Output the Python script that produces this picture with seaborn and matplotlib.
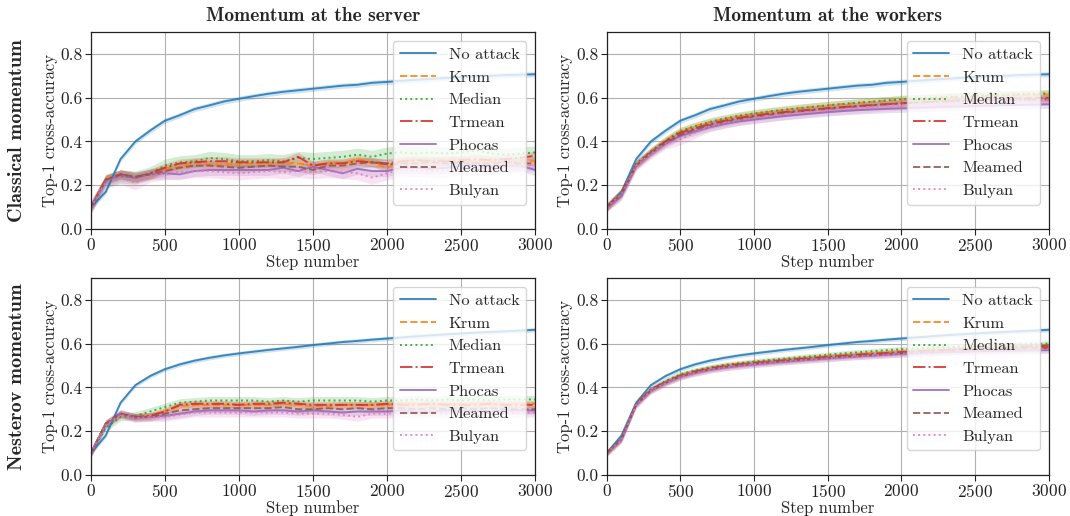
import numpy as np
import pandas as pd
import matplotlib
matplotlib.use("Agg")
import matplotlib.pyplot as plt
import seaborn as sns

steps = list(range(0, 3001, 100))
methods = ["No attack", "Krum", "Median", "Trmean", "Phocas", "Meamed", "Bulyan"]
linestyles = ["-", "--", ":", "-.", "-", "--", ":"]
row_labels = ["Classical momentum", "Nesterov momentum"]
col_titles = ["Momentum at the server", "Momentum at the workers"]

# ---- No attack baselines (shared per row) ----
na_classical = [0.10, 0.17, 0.32, 0.40, 0.45, 0.495, 0.52, 0.548, 0.565, 0.583, 0.595, 0.607, 0.618, 0.627, 0.634, 0.641,
                0.648, 0.655, 0.659, 0.668, 0.672, 0.677, 0.682, 0.686, 0.690, 0.694, 0.697, 0.700, 0.703, 0.705, 0.707]
na_nesterov = [0.10, 0.18, 0.33, 0.41, 0.452, 0.483, 0.505, 0.522, 0.535, 0.546, 0.555, 0.563, 0.571, 0.578, 0.585, 0.593,
               0.600, 0.607, 0.612, 0.618, 0.623, 0.628, 0.633, 0.638, 0.642, 0.646, 0.650, 0.653, 0.656, 0.659, 0.663]

# ---- Classical momentum, at the server ----
cs_krum = [0.10, 0.23, 0.25, 0.235, 0.25, 0.275, 0.285, 0.305, 0.295, 0.295, 0.30, 0.30, 0.30, 0.305, 0.30, 0.29,
           0.30, 0.30, 0.32, 0.305, 0.28, 0.31, 0.31, 0.31, 0.315, 0.31, 0.31, 0.31, 0.305, 0.31, 0.31]
cs_median = [0.10, 0.22, 0.24, 0.235, 0.255, 0.29, 0.305, 0.31, 0.325, 0.32, 0.31, 0.31, 0.315, 0.31, 0.325, 0.32,
             0.325, 0.33, 0.34, 0.33, 0.345, 0.35, 0.345, 0.35, 0.345, 0.35, 0.36, 0.345, 0.34, 0.345, 0.35]
cs_trmean = [0.10, 0.225, 0.25, 0.235, 0.255, 0.28, 0.30, 0.305, 0.31, 0.31, 0.305, 0.305, 0.305, 0.305, 0.33, 0.29,
             0.30, 0.30, 0.31, 0.305, 0.30, 0.31, 0.315, 0.31, 0.31, 0.315, 0.32, 0.315, 0.32, 0.325, 0.335]
cs_phocas = [0.10, 0.22, 0.245, 0.235, 0.25, 0.255, 0.25, 0.265, 0.27, 0.27, 0.27, 0.27, 0.27, 0.28, 0.265, 0.285,
             0.27, 0.255, 0.275, 0.265, 0.265, 0.28, 0.28, 0.275, 0.28, 0.29, 0.295, 0.285, 0.29, 0.29, 0.27]
cs_meamed = [0.10, 0.225, 0.25, 0.24, 0.25, 0.265, 0.28, 0.29, 0.29, 0.285, 0.28, 0.285, 0.29, 0.285, 0.285, 0.27,
             0.29, 0.29, 0.30, 0.305, 0.295, 0.30, 0.30, 0.305, 0.30, 0.305, 0.30, 0.30, 0.305, 0.30, 0.30]
cs_bulyan = [0.10, 0.215, 0.235, 0.21, 0.245, 0.255, 0.26, 0.265, 0.265, 0.26, 0.255, 0.26, 0.265, 0.26, 0.265, 0.26,
             0.265, 0.26, 0.255, 0.235, 0.255, 0.27, 0.27, 0.265, 0.27, 0.28, 0.275, 0.28, 0.285, 0.29, 0.295]

# ---- Classical momentum, at the workers ----
cw_krum = [0.10, 0.165, 0.295, 0.355, 0.405, 0.447, 0.47, 0.488, 0.502, 0.515, 0.525, 0.535, 0.543, 0.551, 0.558, 0.565,
           0.571, 0.576, 0.581, 0.586, 0.591, 0.595, 0.598, 0.601, 0.604, 0.606, 0.608, 0.610, 0.612, 0.614, 0.615]
cw_median = [0.10, 0.17, 0.30, 0.355, 0.405, 0.447, 0.47, 0.49, 0.505, 0.518, 0.528, 0.537, 0.545, 0.552, 0.559, 0.565,
             0.571, 0.577, 0.582, 0.588, 0.593, 0.597, 0.600, 0.603, 0.606, 0.609, 0.612, 0.614, 0.616, 0.618, 0.62]
cw_trmean = [0.10, 0.165, 0.295, 0.35, 0.40, 0.44, 0.46, 0.48, 0.495, 0.508, 0.518, 0.527, 0.534, 0.540, 0.546, 0.552,
             0.557, 0.562, 0.566, 0.570, 0.574, 0.577, 0.580, 0.582, 0.584, 0.586, 0.588, 0.589, 0.590, 0.591, 0.592]
cw_phocas = [0.10, 0.15, 0.29, 0.345, 0.39, 0.425, 0.445, 0.465, 0.48, 0.492, 0.50, 0.508, 0.516, 0.522, 0.528, 0.534,
             0.539, 0.543, 0.546, 0.549, 0.551, 0.554, 0.556, 0.558, 0.560, 0.562, 0.564, 0.566, 0.567, 0.569, 0.570]
cw_meamed = [0.10, 0.16, 0.29, 0.35, 0.395, 0.43, 0.455, 0.475, 0.49, 0.503, 0.513, 0.522, 0.530, 0.537, 0.543, 0.549,
             0.555, 0.560, 0.565, 0.570, 0.574, 0.578, 0.581, 0.584, 0.587, 0.590, 0.593, 0.595, 0.597, 0.599, 0.60]
cw_bulyan = [0.10, 0.16, 0.29, 0.345, 0.39, 0.41, 0.44, 0.47, 0.485, 0.498, 0.508, 0.517, 0.525, 0.532, 0.538, 0.544,
             0.549, 0.554, 0.559, 0.564, 0.568, 0.572, 0.575, 0.578, 0.580, 0.582, 0.584, 0.586, 0.588, 0.589, 0.59]

# ---- Nesterov momentum, at the server ----
ns_krum = [0.10, 0.235, 0.275, 0.265, 0.27, 0.29, 0.315, 0.32, 0.32, 0.32, 0.32, 0.32, 0.32, 0.325, 0.32, 0.315,
           0.315, 0.32, 0.32, 0.32, 0.32, 0.325, 0.325, 0.32, 0.325, 0.32, 0.325, 0.325, 0.32, 0.325, 0.325]
ns_median = [0.10, 0.215, 0.265, 0.27, 0.29, 0.31, 0.33, 0.335, 0.34, 0.34, 0.34, 0.34, 0.335, 0.34, 0.335, 0.34,
             0.34, 0.34, 0.34, 0.335, 0.34, 0.34, 0.345, 0.34, 0.345, 0.34, 0.345, 0.34, 0.345, 0.345, 0.345]
ns_trmean = [0.10, 0.235, 0.28, 0.265, 0.27, 0.29, 0.32, 0.325, 0.325, 0.325, 0.32, 0.325, 0.325, 0.33, 0.325, 0.32,
             0.32, 0.32, 0.32, 0.32, 0.325, 0.32, 0.32, 0.325, 0.32, 0.32, 0.32, 0.325, 0.32, 0.32, 0.32]
ns_phocas = [0.10, 0.23, 0.28, 0.26, 0.265, 0.27, 0.28, 0.29, 0.295, 0.295, 0.295, 0.29, 0.295, 0.295, 0.29, 0.295,
             0.29, 0.285, 0.29, 0.29, 0.29, 0.295, 0.29, 0.29, 0.295, 0.29, 0.295, 0.29, 0.295, 0.295, 0.295]
ns_meamed = [0.10, 0.235, 0.28, 0.265, 0.265, 0.28, 0.295, 0.30, 0.305, 0.305, 0.305, 0.305, 0.305, 0.31, 0.30, 0.30,
             0.305, 0.30, 0.305, 0.30, 0.305, 0.305, 0.30, 0.305, 0.30, 0.305, 0.30, 0.305, 0.30, 0.30, 0.30]
ns_bulyan = [0.10, 0.23, 0.275, 0.26, 0.265, 0.265, 0.275, 0.285, 0.285, 0.285, 0.285, 0.285, 0.285, 0.285, 0.28, 0.28,
             0.28, 0.275, 0.265, 0.28, 0.28, 0.285, 0.28, 0.285, 0.28, 0.285, 0.28, 0.285, 0.28, 0.285, 0.285]

# ---- Nesterov momentum, at the workers ----
nw_krum = [0.10, 0.165, 0.325, 0.39, 0.425, 0.455, 0.474, 0.488, 0.499, 0.507, 0.514, 0.520, 0.526, 0.532, 0.537, 0.542,
           0.547, 0.552, 0.556, 0.560, 0.564, 0.567, 0.570, 0.572, 0.575, 0.577, 0.579, 0.581, 0.582, 0.584, 0.585]
nw_median = [0.10, 0.165, 0.325, 0.39, 0.43, 0.46, 0.478, 0.492, 0.503, 0.511, 0.518, 0.525, 0.531, 0.537, 0.543, 0.549,
             0.555, 0.560, 0.565, 0.570, 0.574, 0.578, 0.581, 0.584, 0.587, 0.589, 0.592, 0.594, 0.596, 0.598, 0.600]
nw_trmean = [0.10, 0.165, 0.325, 0.39, 0.425, 0.453, 0.472, 0.486, 0.497, 0.505, 0.511, 0.517, 0.523, 0.529, 0.534, 0.539,
             0.544, 0.549, 0.553, 0.557, 0.561, 0.565, 0.568, 0.571, 0.574, 0.577, 0.580, 0.583, 0.585, 0.588, 0.590]
nw_phocas = [0.10, 0.16, 0.32, 0.385, 0.42, 0.448, 0.466, 0.48, 0.49, 0.498, 0.505, 0.511, 0.517, 0.522, 0.527, 0.532,
             0.537, 0.541, 0.545, 0.549, 0.553, 0.556, 0.559, 0.561, 0.563, 0.565, 0.566, 0.567, 0.568, 0.569, 0.570]
nw_meamed = [0.10, 0.165, 0.322, 0.387, 0.422, 0.45, 0.469, 0.483, 0.494, 0.502, 0.509, 0.515, 0.521, 0.526, 0.531, 0.536,
             0.541, 0.545, 0.549, 0.553, 0.557, 0.561, 0.564, 0.567, 0.570, 0.572, 0.574, 0.576, 0.578, 0.579, 0.580]
nw_bulyan = [0.10, 0.16, 0.32, 0.385, 0.42, 0.448, 0.466, 0.48, 0.491, 0.499, 0.506, 0.512, 0.518, 0.523, 0.528, 0.533,
             0.538, 0.542, 0.546, 0.550, 0.554, 0.558, 0.561, 0.564, 0.566, 0.568, 0.570, 0.572, 0.573, 0.574, 0.575]

# std (band half-width) per series, per panel: order follows `methods`
std_cs = [0.012, 0.02, 0.03, 0.02, 0.025, 0.022, 0.03]
std_cw = [0.012, 0.018, 0.018, 0.016, 0.018, 0.018, 0.025]
std_ns = [0.010, 0.015, 0.018, 0.015, 0.018, 0.018, 0.02]
std_nw = [0.010, 0.012, 0.012, 0.012, 0.015, 0.012, 0.015]

panels = {
    (0, 0): ([na_classical, cs_krum, cs_median, cs_trmean, cs_phocas, cs_meamed, cs_bulyan], std_cs),
    (0, 1): ([na_classical, cw_krum, cw_median, cw_trmean, cw_phocas, cw_meamed, cw_bulyan], std_cw),
    (1, 0): ([na_nesterov, ns_krum, ns_median, ns_trmean, ns_phocas, ns_meamed, ns_bulyan], std_ns),
    (1, 1): ([na_nesterov, nw_krum, nw_median, nw_trmean, nw_phocas, nw_meamed, nw_bulyan], std_nw),
}

sns.set_style("ticks", {"axes.grid": True, "grid.color": "#b0b0b0", "axes.edgecolor": "#222222",
                        "xtick.color": "#222222", "ytick.color": "#222222"})
plt.rcParams["font.family"] = ["cmr10", "DejaVu Serif"]
plt.rcParams["mathtext.fontset"] = "cm"
plt.rcParams["axes.formatter.use_mathtext"] = True
plt.rcParams["axes.unicode_minus"] = False

palette = sns.color_palette("tab10", len(methods))

fig = plt.figure(figsize=(10.7, 5.16), dpi=100)
lefts = [0.085, 0.567]
widths = [0.415, 0.413]
bottoms = [0.556, 0.0795]
height = 0.382

for (r, c), (series, stds) in panels.items():
    ax = fig.add_axes([lefts[c], bottoms[r], widths[c], height])
    for i, m in enumerate(methods):
        y = np.array(series[i])
        df = pd.DataFrame({"step": steps, "acc": y})
        sns.lineplot(data=df, x="step", y="acc", ax=ax, color=palette[i], linestyle=linestyles[i],
                     linewidth=1.4, alpha=0.85, label=m, errorbar=None)
        ax.fill_between(steps, y - stds[i], y + stds[i], color=palette[i], alpha=0.2, linewidth=0)
    ax.set_xlim(0, 3000)
    ax.set_ylim(0, 0.9)
    ax.set_xticks([0, 500, 1000, 1500, 2000, 2500, 3000])
    ax.set_yticks([0.0, 0.2, 0.4, 0.6, 0.8])
    ax.set_yticklabels(["0.0", "0.2", "0.4", "0.6", "0.8"])
    ax.tick_params(labelsize=12.5, length=4, width=0.8, pad=2)
    ax.set_xlabel("Step number", fontsize=12, labelpad=0)
    ax.set_ylabel("Top-1 cross-accuracy", fontsize=12, labelpad=2)
    for s in ax.spines.values():
        s.set_linewidth(0.9)
    leg = ax.legend(loc="upper right", fontsize=11.8, framealpha=0.8, labelspacing=0.5,
                    borderaxespad=0.55, handlelength=2.2, fancybox=True)
    leg.get_frame().set_edgecolor("#cccccc")
    if r == 0:
        ax.set_title(col_titles[c], fontsize=14, family="cmb10", pad=8)
    if c == 0:
        fig.text(0.016, bottoms[r] + height / 2, row_labels[r], rotation=90, va="center", ha="center",
                 fontsize=14.5, family="cmb10")

fig.savefig("out.png", dpi=100)
